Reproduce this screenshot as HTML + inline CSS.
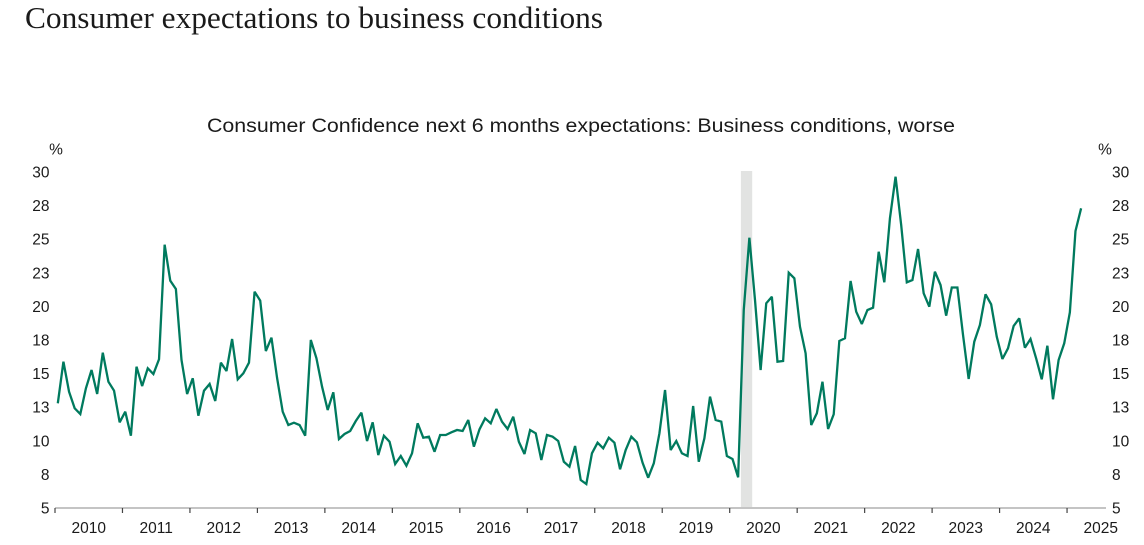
<!DOCTYPE html>
<html>
<head>
<meta charset="utf-8">
<style>
  html,body{margin:0;padding:0;background:#fff;}
  body{width:1144px;height:545px;overflow:hidden;}
  svg{display:block;}
  .ax{font-family:"Liberation Sans",sans-serif;font-size:15.5px;fill:#1a1a1a;}
</style>
</head>
<body>
<svg width="1144" height="545" viewBox="0 0 1144 545" xmlns="http://www.w3.org/2000/svg">
  <rect width="1144" height="545" fill="#fff"/>
  <!-- Title -->
  <text x="25" y="28" font-family="Liberation Serif, serif" font-size="31" fill="#1a1a1a" textLength="578" lengthAdjust="spacingAndGlyphs">Consumer expectations to business conditions</text>
  <!-- Subtitle -->
  <text x="207" y="132" font-family="Liberation Sans, sans-serif" font-size="19.5" fill="#1a1a1a" textLength="748" lengthAdjust="spacingAndGlyphs">Consumer Confidence next 6 months expectations: Business conditions, worse</text>

  <!-- recession shading -->
  <rect x="740.9" y="171" width="11.3" height="337" fill="#e2e3e2"/>

  <!-- % labels -->
  <text class="ax" x="56" y="154.5" text-anchor="middle">%</text>
  <text class="ax" x="1105" y="154.5" text-anchor="middle">%</text>

  <!-- left y labels -->
  <g class="ax" text-anchor="end">
    <text x="49.5" y="177.5">30</text>
    <text x="49.5" y="211.1">28</text>
    <text x="49.5" y="244.7">25</text>
    <text x="49.5" y="278.3">23</text>
    <text x="49.5" y="311.9">20</text>
    <text x="49.5" y="345.5">18</text>
    <text x="49.5" y="379.1">15</text>
    <text x="49.5" y="412.7">13</text>
    <text x="49.5" y="446.3">10</text>
    <text x="49.5" y="479.9">8</text>
    <text x="49.5" y="513.5">5</text>
  </g>
  <!-- right y labels -->
  <g class="ax" text-anchor="start">
    <text x="1112" y="177.5">30</text>
    <text x="1112" y="211.1">28</text>
    <text x="1112" y="244.7">25</text>
    <text x="1112" y="278.3">23</text>
    <text x="1112" y="311.9">20</text>
    <text x="1112" y="345.5">18</text>
    <text x="1112" y="379.1">15</text>
    <text x="1112" y="412.7">13</text>
    <text x="1112" y="446.3">10</text>
    <text x="1112" y="479.9">8</text>
    <text x="1112" y="513.5">5</text>
  </g>

  <!-- x axis -->
  <line x1="55" y1="508" x2="1106" y2="508" stroke="#c4c4c4" stroke-width="2"/>
  <g stroke="#444" stroke-width="1.2">
    <line x1="55" y1="508" x2="55" y2="513"/>
    <line x1="122.47" y1="508" x2="122.47" y2="513"/>
    <line x1="189.94" y1="508" x2="189.94" y2="513"/>
    <line x1="257.41" y1="508" x2="257.41" y2="513"/>
    <line x1="324.88" y1="508" x2="324.88" y2="513"/>
    <line x1="392.35" y1="508" x2="392.35" y2="513"/>
    <line x1="459.82" y1="508" x2="459.82" y2="513"/>
    <line x1="527.29" y1="508" x2="527.29" y2="513"/>
    <line x1="594.76" y1="508" x2="594.76" y2="513"/>
    <line x1="662.23" y1="508" x2="662.23" y2="513"/>
    <line x1="729.7" y1="508" x2="729.7" y2="513"/>
    <line x1="797.17" y1="508" x2="797.17" y2="513"/>
    <line x1="864.64" y1="508" x2="864.64" y2="513"/>
    <line x1="932.11" y1="508" x2="932.11" y2="513"/>
    <line x1="999.58" y1="508" x2="999.58" y2="513"/>
    <line x1="1067.05" y1="508" x2="1067.05" y2="513"/>
  </g>
  <g class="ax" text-anchor="middle">
    <text x="88.7" y="533">2010</text>
    <text x="156.2" y="533">2011</text>
    <text x="223.7" y="533">2012</text>
    <text x="291.1" y="533">2013</text>
    <text x="358.6" y="533">2014</text>
    <text x="426.1" y="533">2015</text>
    <text x="493.6" y="533">2016</text>
    <text x="561" y="533">2017</text>
    <text x="628.5" y="533">2018</text>
    <text x="696" y="533">2019</text>
    <text x="763.4" y="533">2020</text>
    <text x="830.9" y="533">2021</text>
    <text x="898.4" y="533">2022</text>
    <text x="965.8" y="533">2023</text>
    <text x="1033.3" y="533">2024</text>
    <text x="1100.8" y="533">2025</text>
  </g>

  <!-- data line -->
  <g transform="translate(57.81,0) scale(5.6225,1)">
    <polyline fill="none" stroke="#007a5e" stroke-width="2.3" stroke-linejoin="miter" stroke-miterlimit="2.5" vector-effect="non-scaling-stroke"
      points="0,403.3 1,361.7 2,391.7 3,408.3 4,414 5,388.3 6,370 7,394 8,352.7 9,381.7 10,390.7 11,422.3 12,411.7 13,435.7 14,366.7 15,386 16,368.3 17,374 18,359.3 19,244.7 20,280.7 21,289 22,360 23,394 24,378.3 25,415.7 26,390.7 27,384 28,401 29,362.7 30,371 31,339 32,379.3 33,373.3 34,362.7 35,291.7 36,300.7 37,351 38,337.7 39,378 40,411.7 41,425 42,422.7 43,425 44,435.7 45,340 46,358.3 47,386.7 48,410 49,392.3 50,439 51,434 52,431 53,421 54,412.7 55,441 56,422.3 57,455 58,435.7 59,441.7 60,464 61,456 62,465.7 63,453.3 64,423.3 65,437.7 66,436.7 67,451.7 68,435 69,435 70,432.3 71,430 72,431 73,420 74,446.7 75,429.3 76,418.3 77,423.3 78,409 79,421.7 80,429 81,416.7 82,441.7 83,454 84,430 85,433.3 86,460 87,435 88,436.7 89,441 90,461.7 91,466.7 92,446 93,480 94,484 95,453.3 96,442.7 97,448.3 98,437.7 99,442.7 100,469.3 101,450 102,436.7 103,442.3 104,462.7 105,477.7 106,463.3 107,433.3 108,390 109,450 110,441 111,453.3 112,456 113,406 114,461.7 115,438.3 116,396.7 117,420 118,421.7 119,456 120,459 121,477.3 122,310 123,237.7 124,300 125,370 126,303.3 127,296.7 128,361.7 129,361 130,272.7 131,278.3 132,326.7 133,353.3 134,425 135,413.3 136,381.7 137,429 138,414.3 139,341 140,338.3 141,281 142,311.7 143,324 144,310 145,307.7 146,251.7 147,282.3 148,218.3 149,176.7 150,225 151,282.3 152,280 153,249 154,293.3 155,306.7 156,271.7 157,285 158,315.7 159,287.5 160,287.5 161,335 162,379 163,341.7 164,325 165,294.3 166,304.3 167,336.7 168,359 169,348.3 170,326 171,318.3 172,347.7 173,339 174,358.3 175,379.3 176,345.7 177,399.3 178,360 179,343.3 180,312.3 181,231 182,208.3"/>
  </g>
</svg>
</body>
</html>
